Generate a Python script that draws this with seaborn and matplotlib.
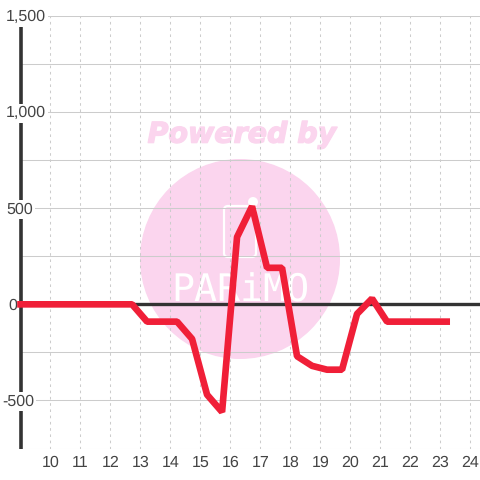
import matplotlib
matplotlib.use("Agg")
import matplotlib.pyplot as plt
import matplotlib.patheffects as pe
import pandas as pd
import seaborn as sns
from matplotlib.patches import Circle, FancyBboxPatch

hours = [8.89, 9.22, 9.72, 10.22, 10.72, 11.22, 11.72, 12.22, 12.72, 13.22, 13.72, 14.22,
         14.72, 15.22, 15.72, 16.22, 16.72, 17.22, 17.72, 18.22, 18.72, 19.22, 19.72,
         20.22, 20.72, 21.22, 21.72, 22.22, 22.72, 23.32]
values = [0, 0, 0, 0, 0, 0, 0, 0, 0, -90, -90, -90,
          -180, -470, -560, 350, 510, 190, 190, -270, -320, -340, -340,
          -50, 30, -90, -90, -90, -90, -90]
x_ticks = list(range(10, 25))
y_major = [-500, 500, 1000, 1500]
y_minor = [-750, -250, 250, 750, 1250]

LINE_RED = "#f01f38"
DARK = "#333333"
LABEL = "#444444"
GRID = "#cccccc"
PINK = "#fbd5ee"

sns.set_style("white")
plt.rcParams["font.family"] = ["Liberation Sans", "DejaVu Sans"]
plt.rcParams["text.hinting"] = "none"

df = pd.DataFrame({"hour": hours, "value": values})

fig = plt.figure(figsize=(4.8, 4.8), dpi=100)

# водяной знак на отдельных осях под графиком, координаты в пикселях
bg = fig.add_axes([0, 0, 1, 1], zorder=0)
bg.set_xlim(0, 480)
bg.set_ylim(480, 0)
bg.axis("off")
bg.add_patch(Circle((240, 259), 100, facecolor=PINK, edgecolor="none"))
bg.add_patch(FancyBboxPatch((224, 206), 32, 51, boxstyle="round,pad=0,rounding_size=4",
                            facecolor="none", edgecolor="white", lw=1.6))
bg.add_patch(Circle((253, 202), 5, facecolor="white", edgecolor="none"))
bg.text(242, 135, "Powered by", color=PINK, fontsize=20.5, fontweight="bold", style="italic",
        family="DejaVu Sans", ha="center", va="center",
        path_effects=[pe.withStroke(linewidth=1.0, foreground=PINK)])
bg.text(240, 291, "PARiMO", color="white", fontsize=27.5, family="DejaVu Sans Mono",
        ha="center", va="center")

# оси в пикселях: x от 20.5 до 480, y от 16 до 448.5
ax = fig.add_axes([20.5 / 480, (480 - 448.5) / 480, (480 - 20.5) / 480, (448.5 - 16) / 480], zorder=1)
ax.set_xlim(9, 24.32)
ax.set_ylim(-750, 1500)
ax.patch.set_alpha(0)

for s in ax.spines.values():
    s.set_visible(False)

ax.set_xticks(x_ticks)
ax.set_yticks([])
ax.tick_params(length=0, labelsize=11.5, colors=LABEL, pad=5)

for y in y_major + y_minor:
    ax.axhline(y, color=GRID, lw=0.75, zorder=1)
for x in x_ticks:
    ax.axvline(x, color=GRID, lw=0.75, ls=(0, (2.5, 3.5)), zorder=1)

ax.axhline(0, color=DARK, lw=2.4, zorder=2)
ax.axvline(9, color=DARK, lw=2.6, zorder=2, clip_on=False, solid_capstyle="butt")

line_ax = sns.lineplot(data=df, x="hour", y="value", color=LINE_RED, lw=4.8, ax=ax, zorder=5,
                       solid_joinstyle="bevel", solid_capstyle="butt", errorbar=None)
line_ax.lines[-1].set_clip_on(False)
ax.set_xlabel("")
ax.set_ylabel("")

# подписи оси Y стоят прямо на линии, с белой подложкой
label_x = {-500: -0.040, 0: -0.0272}
for y in y_major + [0]:
    ax.annotate(f"{y:,}", (label_x.get(y, -0.0316), y), xycoords=ax.get_yaxis_transform(),
                xytext=(0, -1), textcoords="offset pixels", ha="left", va="center",
                fontsize=11.5, color=LABEL, zorder=6 if y != 0 else 4, annotation_clip=False,
                bbox=dict(facecolor="white", edgecolor="none", pad=1.5) if y != 0 else None)

fig.savefig("out.png", dpi=100)
